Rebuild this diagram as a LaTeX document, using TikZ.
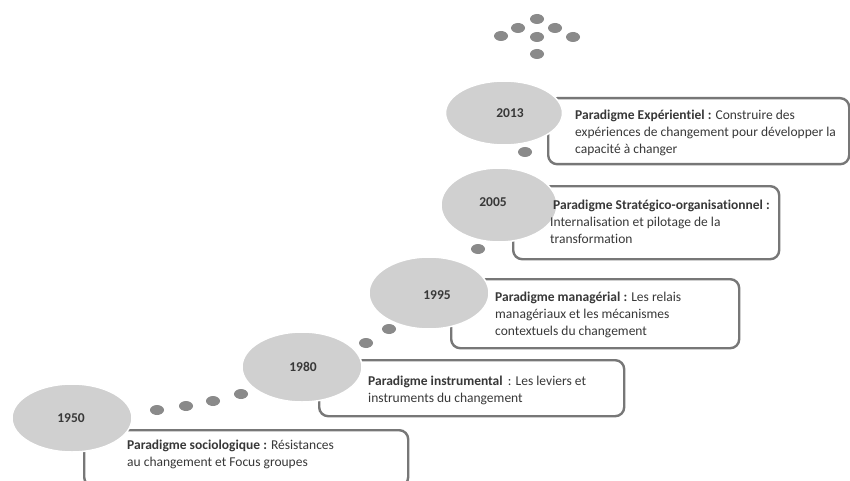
\documentclass[tikz,border=0pt]{standalone}
\usepackage{fontspec}
\setmainfont{Carlito}[Ligatures=NoCommon]
\usetikzlibrary{shapes.geometric}
\definecolor{ellgray}{HTML}{D0D0D0}
\definecolor{dotgray}{HTML}{8A8A8A}
\definecolor{boxgray}{HTML}{777777}
\definecolor{txtgray}{HTML}{383838}
\begin{document}
\begin{tikzpicture}[x=1pt,y=-1pt,
  panel/.style={draw=boxgray, line width=2.4pt, rounded corners=9pt, anchor=north west, inner sep=0pt},
  yearell/.style={ellipse, fill=ellgray, draw=white, line width=1.5pt, inner sep=0pt},
  yeartxt/.style={font=\bfseries\fontsize{13.5}{15}\selectfont, text=txtgray, inner sep=0pt},
  dotnode/.style={ellipse, fill=dotgray, minimum width=14pt, minimum height=10pt, inner sep=0pt},
  desc/.style={anchor=north west, align=left, inner sep=0pt, font=\fontsize{13.5}{17}\selectfont, text=txtgray}]
\fill[white] (0,0) rectangle (850,481);
\useasboundingbox (0,0) rectangle (850,481);
\clip (0,0) rectangle (850,481);
% panels
\node[panel, minimum width=324pt, minimum height=56pt] (b1) at (83,429) {};
\node[panel, minimum width=305pt, minimum height=56pt] (b2) at (318,359) {};
\node[panel, minimum width=288pt, minimum height=69pt] (b3) at (450,278) {};
\node[panel, minimum width=266pt, minimum height=73pt] (b4) at (512,185) {};
\node[panel, minimum width=301pt, minimum height=66pt] (b5) at (547,97) {};
% ellipses
\node[yearell, minimum width=120pt, minimum height=68pt] (e1) at (72,418) {};
\node[yearell, minimum width=120pt, minimum height=70pt] (e2) at (302,367) {};
\node[yearell, minimum width=120pt, minimum height=72pt] (e3) at (429,293) {};
\node[yearell, minimum width=116pt, minimum height=74pt] (e4) at (499,205) {};
\node[yearell, minimum width=117pt, minimum height=64pt] (e5) at (504,113) {};
% years
\node[yeartxt] (y1) at (71,418) {1950};
\node[yeartxt] (y2) at (303,367) {1980};
\node[yeartxt] (y3) at (437,295) {1995};
\node[yeartxt] (y4) at (493,202) {2005};
\node[yeartxt] (y5) at (510,113) {2013};
% dots
\node[dotnode] (d1) at (157,410) {};
\node[dotnode] (d2) at (186,406) {};
\node[dotnode] (d3) at (213,401) {};
\node[dotnode] (d4) at (241,394) {};
\node[dotnode] (d5) at (366,343) {};
\node[dotnode] (d6) at (389,329) {};
\node[dotnode] (d7) at (478,249) {};
\node[dotnode] (d8) at (525,152) {};
\node[dotnode] (c1) at (537,19) {};
\node[dotnode] (c2) at (518,28) {};
\node[dotnode] (c3) at (555,28) {};
\node[dotnode] (c4) at (501,36) {};
\node[dotnode] (c5) at (537,37) {};
\node[dotnode] (c6) at (573,37) {};
\node[dotnode] (c7) at (537,54) {};
% texts
\node[desc] (t1) at (127,440) {\textbf{Paradigme sociologique :} Résistances\\au changement et Focus groupes};
\node[desc] (t2) at (368,376) {\textbf{Paradigme instrumental}\, : Les leviers et\\instruments du changement};
\node[desc] (t3) at (495,292) {\textbf{Paradigme managérial :} Les relais\\managériaux et les mécanismes\\contextuels du changement};
\node[desc] (t4) at (550,200) {\hspace{3pt}\textbf{Paradigme Stratégico-organisationnel :}\\Internalisation et pilotage de la\\transformation};
\node[desc] (t5) at (575,110) {\textbf{Paradigme Expérientiel :} Construire des\\expériences de changement pour développer la\\capacité à changer};
\end{tikzpicture}
\end{document}
